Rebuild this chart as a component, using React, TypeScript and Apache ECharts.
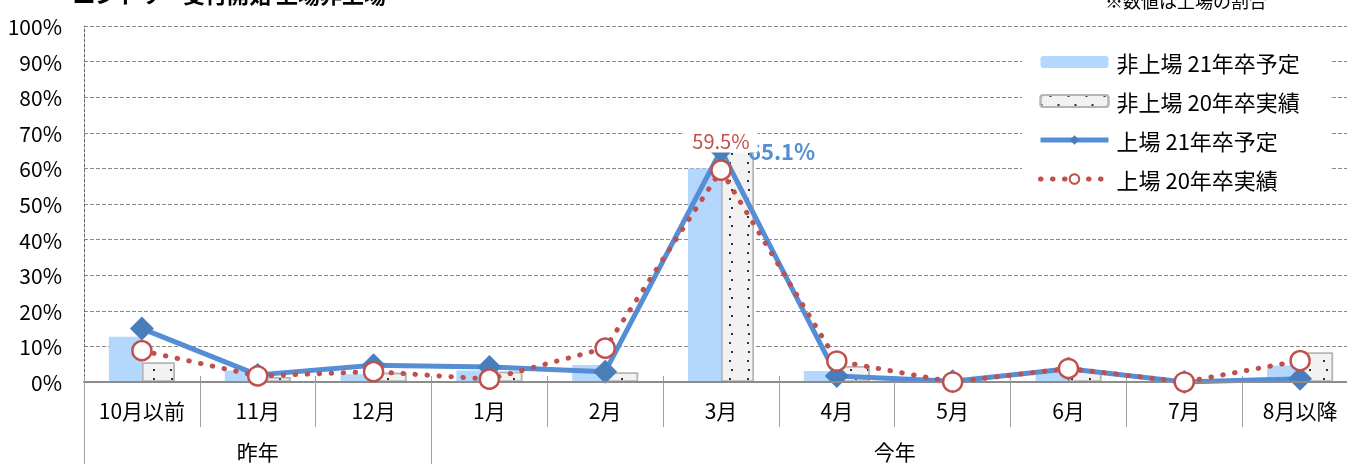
import React, { useEffect, useRef } from "react";
import * as echarts from "echarts";

const categories = ["10月以前", "11月", "12月", "1月", "2月", "3月", "4月", "5月", "6月", "7月", "8月以降"];
const yearLabels = ["昨年", "今年"];
const seriesNames = ["非上場 21年卒予定", "非上場 20年卒実績", "上場 21年卒予定", "上場 20年卒実績"];
const nonListed21 = [12.7, 3.2, 2.2, 3.2, 4.8, 60.0, 3.1, 0, 2.9, 0, 4.6];
const nonListed20 = [5.5, 1.4, 2.6, 2.9, 2.7, 68.0, 4.5, 0, 3.1, 0, 8.3];
const listed21 = [15.0, 2.0, 4.7, 4.2, 2.9, 65.1, 1.7, 0.2, 3.7, 0.0, 0.9];
const listed20 = [8.8, 1.7, 2.9, 0.8, 9.5, 59.5, 5.9, 0.0, 3.8, 0.0, 6.0];
const labelIndex = 5;
const titleText = "エントリー受付開始 上場非上場";
const noteText = "※数値は上場の割合";

const FONT = "'Noto Sans CJK JP', 'Noto Sans', sans-serif";

export default function App() {
  const ref = useRef<HTMLDivElement>(null);
  useEffect(() => {
    if (!ref.current) return;
    const chart = echarts.init(ref.current, undefined, { renderer: "svg" });
    const blueLine = "#558ED5";
    const red = "#C0504D";
    chart.setOption({
      animation: false,
      textStyle: { fontFamily: FONT },
      grid: { left: 84, right: -11, top: 26, bottom: 82, outerBoundsMode: "none" },
      graphic: [
        {
          type: "text",
          left: 73,
          top: -18,
          z: 100,
          style: { text: titleText, fontSize: 22, fontWeight: "bold", fill: "#000", fontFamily: FONT },
        },
        {
          type: "text",
          left: 1105,
          top: -9,
          z: 100,
          style: { text: noteText, fontSize: 18, fill: "#000", fontFamily: FONT },
        },
      ],
      legend: {
        orient: "vertical",
        left: 1022,
        top: 40,
        padding: [9, 30, 9, 16],
        backgroundColor: "#fff",
        itemWidth: 68,
        itemHeight: 12,
        itemGap: 13,
        data: [
          { name: seriesNames[0] },
          { name: seriesNames[1] },
          { name: seriesNames[2], lineStyle: { width: 5 } },
          { name: seriesNames[3], lineStyle: { width: 5 } },
        ],
        textStyle: { fontSize: 22, color: "#000", lineHeight: 26, padding: [0, 0, 0, 3], fontFamily: FONT },
        z: 20,
      },
      xAxis: [
        {
          type: "category",
          data: categories,
          position: "bottom",
          boundaryGap: true,
          axisLine: { show: true, lineStyle: { color: "#8c8c8c", width: 2 } },
          axisTick: { show: true, length: 45, interval: 0, lineStyle: { color: "#a0a0a0", width: 1 } },
          axisLabel: { margin: 17, fontSize: 21, color: "#000", interval: 0, fontFamily: FONT },
          splitLine: { show: false },
          z: 5,
        },
        {
          type: "value",
          min: 0,
          max: 11,
          position: "bottom",
          axisLine: { show: false },
          splitLine: { show: false },
          axisTick: { show: true, customValues: [0, 3, 11], length: 84, lineStyle: { color: "#a0a0a0", width: 1 } },
          axisLabel: {
            customValues: [1.5, 7],
            margin: 58,
            fontSize: 21,
            color: "#000",
            fontFamily: FONT,
            formatter: (v: number) => (v < 3 ? yearLabels[0] : yearLabels[1]),
          },
        },
        {
          type: "category",
          data: categories,
          position: "bottom",
          boundaryGap: true,
          axisLine: { show: false },
          axisTick: { show: true, inside: true, length: 6, interval: 0, lineStyle: { color: "#a0a0a0", width: 1 } },
          axisLabel: { show: false },
          splitLine: { show: false },
        },
      ],
      yAxis: {
        type: "value",
        min: 0,
        max: 100,
        interval: 10,
        axisLine: { show: true, lineStyle: { color: "#666", width: 1, type: [3, 2] } },
        axisTick: { show: false },
        axisLabel: { formatter: "{value}%", fontSize: 21, color: "#000", margin: 22, fontFamily: FONT },
        splitLine: { show: true, lineStyle: { color: "#8a8a8a", width: 1, type: [4, 2] } },
      },
      series: [
        {
          name: seriesNames[0],
          type: "bar",
          xAxisIndex: 0,
          data: nonListed21,
          barWidth: 33,
          barGap: "0%",
          itemStyle: { color: "#B4D7FD" },
          z: 2,
        },
        {
          name: seriesNames[1],
          type: "bar",
          xAxisIndex: 0,
          data: nonListed20,
          barWidth: 33,
          barGap: "0%",
          itemStyle: {
            color: "#F2F2F2",
            borderColor: "#B5B5B5",
            borderWidth: 1.5,
            decal: {
              symbol: "rect",
              symbolSize: 1,
              dashArrayX: [[2, 15], [0, 8.5, 2, 6.5]],
              dashArrayY: [2, 6.5],
              color: "#333",
            },
          },
          z: 2,
        },
        {
          name: seriesNames[2],
          type: "line",
          xAxisIndex: 0,
          data: listed21.map((v, i) =>
            i === labelIndex
              ? {
                  value: v,
                  label: {
                    show: true,
                    position: "right",
                    distance: 15,
                    formatter: "{c}%",
                    fontSize: 22,
                    fontWeight: "bold",
                    color: blueLine,
                    fontFamily: FONT,
                  },
                }
              : v
          ),
          symbol: "diamond",
          symbolSize: 24,
          lineStyle: { color: blueLine, width: 5 },
          itemStyle: { color: "#4A7EBB" },
          z: 4,
        },
        {
          name: seriesNames[3],
          type: "line",
          xAxisIndex: 0,
          data: listed20.map((v, i) =>
            i === labelIndex
              ? {
                  value: v,
                  label: {
                    show: true,
                    position: "top",
                    distance: 7,
                    formatter: "{c}%",
                    fontSize: 20,
                    color: red,
                    backgroundColor: "#fff",
                    padding: [2, 8, 2, 8],
                    fontFamily: FONT,
                  },
                }
              : v
          ),
          symbol: "circle",
          symbolSize: 19,
          lineStyle: { color: red, width: 5, type: [0.5, 11.5], cap: "round" },
          itemStyle: { color: "#fff", borderColor: red, borderWidth: 2.5 },
          z: 5,
        },
      ],
    });
    return () => chart.dispose();
  }, []);
  return <div ref={ref} style={{ position: "fixed", left: 0, top: 0, width: 1347, height: 464 }} />;
}
